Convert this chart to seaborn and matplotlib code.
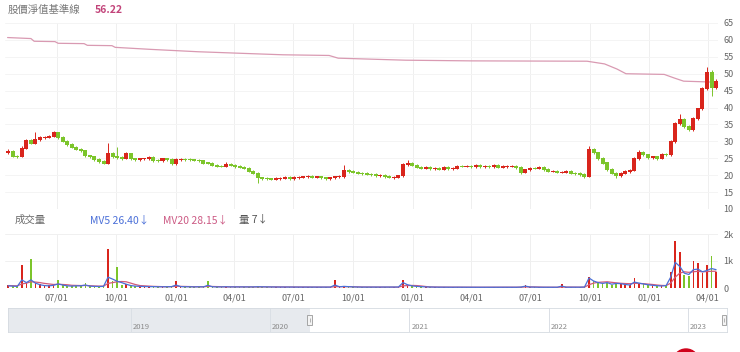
import numpy as np
import pandas as pd
import matplotlib.pyplot as plt
import matplotlib.dates as mdates
import matplotlib.patches as mpatches
import seaborn as sns

# weekly candles (first week 2020-04-17)
opens = [
    26.6, 27.0, 25.6, 25.5, 28.0, 30.2, 29.5, 30.5, 31.0, 31.2,
    31.5, 32.5, 31.2, 30.0, 29.0, 28.3, 27.7, 27.2, 25.7, 25.4,
    24.6, 24.0, 23.6, 26.3, 25.6, 25.2, 25.0, 26.4, 24.8, 24.5,
    24.8, 24.8, 25.3, 24.3, 24.2, 24.8, 24.6, 23.4, 24.6, 24.7,
    24.6, 24.5, 24.4, 24.2, 23.6, 23.5, 22.9, 22.7, 22.6, 23.2,
    23.0, 22.5, 22.3, 22.0, 21.2, 20.6, 19.2, 19.0, 18.9, 18.8,
    19.0, 19.1, 19.3, 19.0, 19.3, 19.4, 19.5, 19.6, 19.4, 19.5,
    19.2, 19.0, 19.2, 19.5, 19.6, 21.5, 21.0, 20.9, 20.6, 20.4,
    20.3, 20.1, 19.8, 20.0, 19.6, 19.4, 19.4, 19.8, 23.2, 23.5,
    22.9, 22.4, 22.0, 22.3, 21.9, 22.0, 21.8, 22.3, 21.9, 22.0,
    22.7, 22.6, 22.6, 22.5, 22.8, 22.5, 22.6, 22.5, 22.8, 22.4,
    22.5, 22.6, 22.7, 22.3, 20.8, 21.6, 22.1, 22.0, 22.2, 21.6,
    21.2, 21.2, 20.8, 20.9, 21.0, 20.6, 20.4, 20.1, 19.6, 27.5,
    26.6, 25.0, 23.6, 21.6, 20.6, 19.8, 20.6, 21.0, 21.4, 25.0,
    26.8, 26.0, 25.2, 25.4, 25.0, 26.2, 26.0, 30.0, 35.2, 36.6,
    34.4, 33.6, 36.8, 39.6, 45.5, 50.5, 46.0,
]
closes = [
    27.0, 25.6, 25.4, 28.0, 30.2, 29.5, 30.5, 31.0, 31.2, 31.5,
    32.5, 31.2, 30.0, 29.0, 28.3, 27.7, 27.2, 25.7, 25.4, 24.6,
    24.0, 23.6, 26.3, 25.6, 25.2, 25.0, 26.4, 24.8, 24.5, 24.8,
    24.8, 25.3, 24.3, 24.2, 24.8, 24.6, 23.4, 24.6, 24.7, 24.6,
    24.5, 24.4, 24.2, 23.6, 23.5, 22.9, 22.7, 22.6, 23.2, 23.0,
    22.5, 22.3, 22.0, 21.2, 20.6, 19.2, 19.0, 18.9, 18.8, 19.0,
    19.1, 19.3, 19.0, 19.3, 19.4, 19.5, 19.6, 19.4, 19.5, 19.2,
    19.0, 19.2, 19.5, 19.6, 21.5, 21.0, 20.9, 20.6, 20.4, 20.3,
    20.1, 19.8, 20.0, 19.6, 19.4, 19.4, 19.8, 23.2, 23.5, 22.9,
    22.4, 22.0, 22.3, 21.9, 22.0, 21.8, 22.3, 21.9, 22.0, 22.7,
    22.6, 22.6, 22.5, 22.8, 22.5, 22.6, 22.5, 22.8, 22.4, 22.5,
    22.6, 22.7, 22.3, 20.8, 21.6, 22.1, 22.0, 22.2, 21.6, 21.2,
    21.2, 20.8, 20.9, 21.0, 20.6, 20.4, 20.1, 19.6, 27.5, 26.6,
    25.0, 23.6, 21.6, 20.6, 19.8, 20.6, 21.0, 21.4, 25.0, 26.8,
    26.0, 25.2, 25.4, 25.0, 26.2, 26.0, 30.0, 35.2, 36.6, 34.4,
    33.6, 36.8, 39.6, 45.5, 50.5, 46.0, 47.8,
]
highs = [
    27.6, 27.3, 26.0, 28.5, 30.6, 30.6, 32.8, 31.5, 31.7, 32.0,
    33.0, 32.9, 31.6, 30.4, 29.4, 28.7, 28.1, 27.5, 26.1, 25.8,
    25.0, 24.4, 29.5, 26.8, 28.3, 25.6, 26.9, 26.7, 25.2, 25.2,
    25.2, 25.7, 25.7, 24.7, 25.2, 25.2, 25.0, 25.0, 25.1, 25.1,
    25.0, 24.9, 24.8, 24.6, 24.0, 23.9, 23.3, 23.1, 23.9, 23.6,
    23.4, 22.9, 22.7, 22.4, 21.6, 21.0, 19.6, 19.4, 19.3, 19.4,
    19.5, 19.7, 19.7, 19.7, 19.8, 19.9, 20.0, 20.0, 19.9, 19.9,
    19.6, 19.6, 19.9, 20.0, 23.0, 21.9, 21.4, 21.3, 21.0, 20.8,
    20.7, 20.5, 20.4, 20.4, 20.0, 19.8, 20.2, 23.6, 24.5, 23.9,
    23.3, 22.8, 22.7, 22.7, 22.4, 22.4, 22.7, 22.7, 22.3, 23.1,
    23.1, 23.0, 22.9, 23.2, 23.2, 23.0, 22.9, 23.2, 23.2, 22.9,
    23.0, 23.1, 23.1, 22.7, 21.9, 22.5, 22.5, 22.6, 22.6, 22.0,
    21.6, 21.6, 21.3, 21.4, 21.4, 21.0, 20.8, 20.5, 28.6, 28.0,
    27.0, 25.4, 24.0, 22.0, 21.0, 21.0, 21.4, 21.8, 25.4, 27.3,
    27.2, 26.4, 25.8, 25.8, 26.6, 26.6, 30.4, 35.6, 38.0, 37.0,
    34.8, 37.2, 40.0, 46.0, 52.0, 51.0, 48.4,
]
lows = [
    26.3, 25.3, 25.0, 25.3, 27.7, 29.1, 29.2, 30.2, 30.7, 30.9,
    31.2, 30.8, 29.7, 28.7, 27.9, 27.3, 26.8, 25.3, 25.0, 24.2,
    23.6, 23.2, 23.4, 25.2, 24.8, 24.6, 24.7, 24.4, 24.1, 24.2,
    24.4, 24.5, 23.9, 23.8, 24.0, 24.2, 23.0, 23.1, 24.3, 24.3,
    24.2, 24.1, 23.8, 23.2, 23.2, 22.6, 22.3, 22.3, 22.3, 22.7,
    22.2, 22.0, 21.7, 20.9, 20.3, 17.7, 18.7, 18.6, 18.5, 18.5,
    18.7, 18.8, 18.7, 18.7, 19.0, 19.1, 19.2, 19.1, 19.1, 18.9,
    18.7, 18.7, 18.9, 19.2, 19.3, 20.7, 20.6, 20.3, 20.1, 20.0,
    19.8, 19.5, 19.5, 19.3, 19.1, 19.0, 19.1, 19.5, 22.8, 22.6,
    22.0, 21.7, 21.7, 21.6, 21.6, 21.5, 21.5, 21.6, 21.6, 21.7,
    22.3, 22.3, 22.2, 22.2, 22.2, 22.2, 22.2, 22.2, 22.1, 22.1,
    22.2, 22.3, 21.9, 20.3, 20.5, 21.3, 21.7, 21.7, 21.3, 20.9,
    20.8, 20.5, 20.5, 20.6, 20.3, 20.1, 19.8, 19.3, 19.4, 26.2,
    24.6, 23.2, 21.2, 20.3, 19.2, 19.5, 20.3, 20.7, 21.1, 24.6,
    25.7, 24.9, 24.8, 24.6, 24.7, 25.6, 25.7, 29.6, 34.9, 34.0,
    33.0, 33.2, 36.4, 39.2, 45.1, 43.5, 45.6,
]
volume = [
    120, 90, 60, 870, 240, 1085, 200, 150, 90, 110,
    140, 310, 120, 90, 80, 110, 90, 200, 80, 70,
    60, 90, 1455, 260, 780, 120, 160, 90, 70, 60,
    50, 60, 50, 40, 50, 45, 60, 250, 50, 40,
    45, 40, 50, 40, 250, 40, 35, 40, 50, 40,
    35, 40, 35, 45, 40, 60, 45, 40, 35, 40,
    35, 30, 35, 40, 30, 35, 30, 35, 30, 35,
    30, 35, 300, 40, 90, 50, 40, 35, 30, 35,
    30, 30, 35, 30, 30, 35, 40, 300, 120, 90,
    60, 50, 40, 35, 30, 30, 35, 30, 25, 30,
    25, 30, 25, 25, 30, 25, 30, 25, 25, 30,
    25, 30, 25, 40, 120, 35, 30, 25, 30, 25,
    30, 25, 150, 25, 30, 25, 35, 40, 400, 250,
    180, 150, 200, 120, 180, 150, 120, 100, 370, 180,
    150, 120, 90, 80, 70, 100, 600, 1750, 1340, 500,
    450, 1000, 920, 550, 850, 1190, 600,
]
mv5 = [
    80, 70, 60, 300, 200, 300, 180, 120, 90, 80,
    100, 150, 110, 80, 70, 80, 80, 110, 70, 60,
    55, 60, 400, 330, 250, 200, 140, 90, 70, 60,
    55, 50, 50, 45, 45, 45, 50, 110, 50, 45,
    45, 40, 45, 40, 100, 45, 40, 40, 45, 40,
    40, 40, 38, 40, 40, 45, 42, 40, 38, 38,
    35, 33, 35, 36, 33, 33, 32, 33, 32, 33,
    32, 33, 110, 45, 60, 48, 40, 36, 33, 33,
    32, 32, 33, 30, 30, 32, 35, 200, 120, 80,
    60, 50, 40, 35, 32, 30, 32, 30, 28, 30,
    27, 28, 27, 27, 28, 27, 28, 27, 27, 28,
    27, 28, 27, 35, 70, 35, 30, 28, 28, 27,
    28, 27, 70, 28, 28, 27, 30, 35, 370, 260,
    200, 170, 200, 140, 170, 160, 130, 110, 220, 180,
    150, 120, 100, 85, 75, 90, 400, 950, 800, 550,
    500, 680, 700, 600, 650, 720, 680,
]
mv20 = [
    90, 85, 80, 150, 180, 230, 220, 200, 170, 150,
    130, 140, 130, 120, 100, 95, 90, 95, 85, 75,
    70, 70, 170, 200, 230, 240, 230, 180, 130, 90,
    80, 70, 60, 55, 50, 50, 50, 65, 60, 55,
    50, 48, 47, 45, 60, 55, 48, 45, 44, 43,
    42, 41, 40, 40, 40, 42, 42, 41, 40, 39,
    38, 37, 36, 36, 35, 35, 34, 34, 33, 33,
    33, 33, 50, 50, 50, 50, 45, 40, 37, 35,
    34, 33, 33, 32, 32, 32, 33, 80, 90, 95,
    90, 75, 55, 40, 35, 33, 32, 31, 30, 30,
    29, 29, 28, 28, 28, 28, 28, 28, 28, 28,
    28, 28, 28, 30, 40, 42, 40, 33, 30, 29,
    28, 28, 35, 35, 34, 30, 30, 32, 120, 180,
    210, 220, 230, 210, 190, 175, 165, 160, 170, 170,
    160, 145, 130, 110, 95, 90, 180, 400, 550, 600,
    580, 600, 620, 600, 610, 620, 620,
]

# price-to-book baseline
pbr_dates = ['2020-04-16', '2020-05-22', '2020-05-27', '2020-06-28', '2020-07-03',
             '2020-08-12', '2020-08-17', '2020-09-24', '2020-09-29', '2020-11-23',
             '2021-02-04', '2021-04-17', '2021-06-15', '2021-08-25', '2021-09-08',
             '2021-12-21', '2022-04-01', '2022-09-27', '2022-10-24', '2022-11-12',
             '2022-11-26', '2023-01-24', '2023-02-09', '2023-02-23', '2023-04-14']
pbr_vals = [60.7, 60.4, 59.6, 59.5, 59.0, 58.9, 58.4, 58.3, 57.8, 57.2,
            56.5, 56.0, 55.6, 55.4, 54.6, 54.0, 53.8, 53.7, 52.9, 51.4,
            50.0, 49.8, 48.7, 47.8, 47.5]

price_ticks = [10, 15, 20, 25, 30, 35, 40, 45, 50, 55, 60, 65]
date_ticks = ['2020-07-01', '2020-10-01', '2021-01-01', '2021-04-01', '2021-07-01',
              '2021-10-01', '2022-01-01', '2022-04-01', '2022-07-01', '2022-10-01',
              '2023-01-01', '2023-04-01']
nav_years = ['2019', '2020', '2021', '2022', '2023']

RED = '#d9251c'
GREEN = '#7cc52b'
PINK = '#d99ab2'

sns.set_theme(style='white')
plt.rcParams['font.family'] = ['Noto Sans CJK TC', 'DejaVu Sans']

df = pd.DataFrame({'open': opens, 'close': closes, 'high': highs, 'low': lows,
                   'vol': volume, 'mv5': mv5, 'mv20': mv20})
df['date'] = pd.date_range('2020-04-17', periods=len(df), freq='7D')
colors = np.where(df['close'] >= df['open'], RED, GREEN)

W, H = 740, 352
def box(x0, y0, x1, y1):
    return [x0 / W, 1 - y1 / H, (x1 - x0) / W, (y1 - y0) / H]

fig = plt.figure(figsize=(7.4, 3.52), dpi=100)
ax = fig.add_axes(box(5, 23, 718, 209))
axv = fig.add_axes(box(5, 234, 718, 288))
axn = fig.add_axes(box(8, 308, 727, 332))

xmin, xmax = pd.Timestamp('2020-04-12'), pd.Timestamp('2023-04-17')
dticks = pd.to_datetime(date_ticks)

# price panel
for t in dticks:
    ax.axvline(t, color='#efefef', lw=0.7, zorder=0)
for p in price_ticks:
    ax.axhline(p, color='#f4f4f4', lw=0.7, zorder=0)
sns.lineplot(x=pd.to_datetime(pbr_dates), y=pbr_vals, ax=ax, color=PINK, lw=0.9,
             estimator=None, zorder=2)
ax.vlines(df['date'], df['low'], df['high'], colors=colors, lw=0.7, zorder=3)
body_lo = np.minimum(df['open'], df['close']) - 0.15
body_h = np.abs(df['close'] - df['open']) + 0.3
ax.bar(df['date'], body_h, bottom=body_lo, width=6.2, color=colors, lw=0, zorder=4)
ax.set_xlim(xmin, xmax)
ax.set_ylim(10, 65)
ax.set_yticks(price_ticks)
ax.yaxis.tick_right()
ax.tick_params(axis='y', labelsize=6.5, labelcolor='#666', length=0, pad=4)
ax.set_xticks([])
ax.set_xlabel('')
ax.set_ylabel('')
for s in ax.spines.values():
    s.set_visible(False)

# volume panel
for t in dticks:
    axv.axvline(t, color='#efefef', lw=0.7, zorder=0)
for v in [1000, 2000]:
    axv.axhline(v, color='#f0f0f0', lw=0.7, zorder=0)
axv.axhline(0, color='#dddddd', lw=0.7, zorder=0)
axv.bar(df['date'], df['vol'], width=2.6, color=colors, lw=0, zorder=2)
sns.lineplot(x=df['date'], y=df['mv20'], ax=axv, color='#d45a78', lw=0.9, zorder=3)
sns.lineplot(x=df['date'], y=df['mv5'], ax=axv, color='#4a6fd8', lw=0.9, zorder=4)
axv.set_xlim(xmin, xmax)
axv.set_ylim(0, 2000)
axv.set_yticks([0, 1000, 2000])
axv.set_yticklabels(['0', '1k', '2k'])
axv.yaxis.tick_right()
axv.set_xticks(dticks)
axv.xaxis.set_major_formatter(mdates.DateFormatter('%m/%d'))
axv.tick_params(axis='both', labelsize=6.5, labelcolor='#666', length=0, pad=4)
axv.set_xlabel('')
axv.set_ylabel('')
for s in axv.spines.values():
    s.set_visible(False)

# navigator strip
nmin, nmax = pd.Timestamp('2018-02-13'), pd.Timestamp('2023-04-14')
axn.set_xlim(nmin, nmax)
axn.set_ylim(0, 1)
axn.axvspan(nmin, pd.Timestamp('2020-04-14'), color='#e7eaee', lw=0, zorder=0)
for y in nav_years:
    t = pd.Timestamp(f'{y}-01-01')
    axn.axvline(t, color='#dadfe5', lw=0.7, zorder=1)
    axn.text(t + pd.Timedelta(days=5), 0.2, y, fontsize=5.5, color='#8a8a8a',
             va='center', ha='left')
for t in [pd.Timestamp('2020-04-14'), pd.Timestamp('2023-04-06')]:
    axn.add_patch(mpatches.Rectangle((mdates.date2num(t) - 6, 0.28), 12, 0.44,
                                     fc='#f4f4f4', ec='#999999', lw=0.6, zorder=5))
    axn.vlines(mdates.date2num(t), 0.4, 0.6, color='#999999', lw=0.5, zorder=6)
axn.set_xticks([])
axn.set_yticks([])
for s in axn.spines.values():
    s.set_color('#d5dae0')
    s.set_linewidth(0.6)

# header texts
fig.text(8 / W, 1 - 10 / H, '股價淨值基準線', fontsize=7.5, color='#777777', va='center')
fig.text(95 / W, 1 - 10 / H, '56.22', fontsize=7.5, color='#c2447a', va='center',
         fontweight='bold')
fig.text(15 / W, 1 - 220 / H, '成交量', fontsize=7.5, color='#6b6b6b', va='center')
fig.text(90 / W, 1 - 220 / H, 'MV5 26.40↓', fontsize=7.5, color='#4a6fd8', va='center')
fig.text(163 / W, 1 - 220 / H, 'MV20 28.15↓', fontsize=7.5, color='#cc5a84', va='center')
fig.text(239 / W, 1 - 220 / H, '量 7↓', fontsize=7.5, color='#555555', va='center')

# red floating button cut off at the bottom edge
fig.patches.append(mpatches.Ellipse((686 / W, 1 - 362 / H), 26 / W, 26 / H,
                                    transform=fig.transFigure, color='#d0021b',
                                    zorder=10))

fig.savefig('out.png', dpi=100)
